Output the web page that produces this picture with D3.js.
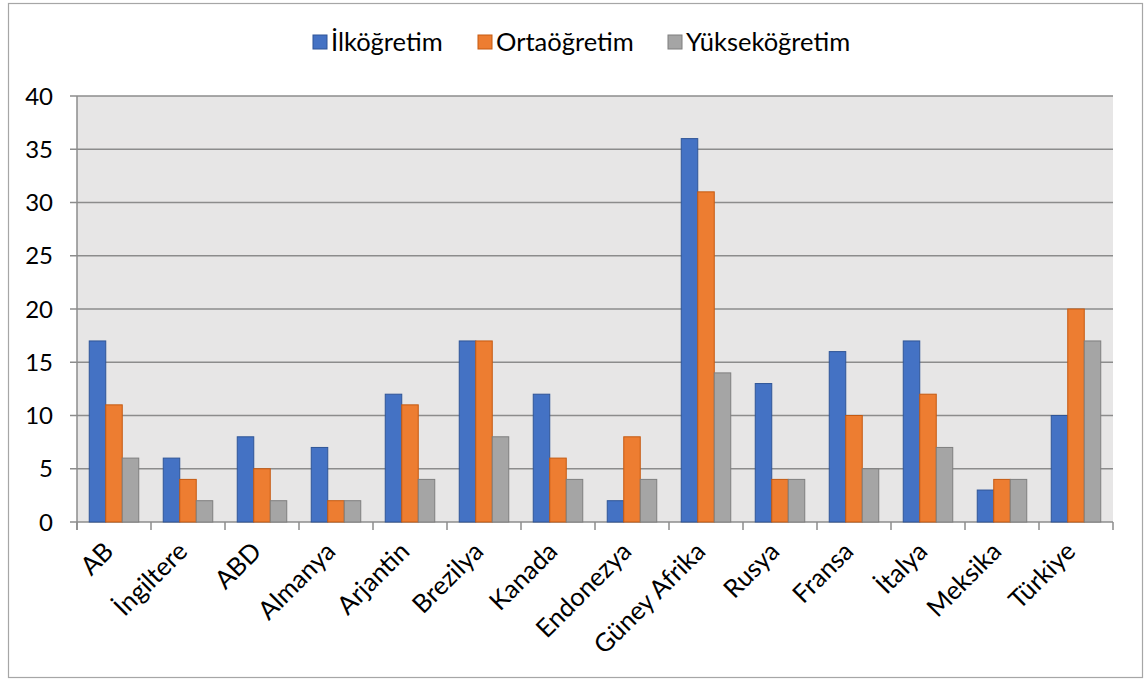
<!DOCTYPE html>
<html><head><meta charset="utf-8">
<script src="https://cdn.jsdelivr.net/npm/d3@7"></script>
<style>body{margin:0;background:#fff;} svg{display:block;font-family:Lato,"Open Sans",sans-serif;}</style>
</head><body><svg id="c" width="1148" height="679"></svg>
<script>
const categories = ["AB","İngiltere","ABD","Almanya","Arjantin","Brezilya","Kanada","Endonezya","Güney Afrika","Rusya","Fransa","İtalya","Meksika","Türkiye"];
const seriesNames = ["İlköğretim","Ortaöğretim","Yükseköğretim"];
const ilkogretim = [17,6,8,7,12,17,12,2,36,13,16,17,3,10];
const ortaogretim = [11,4,5,2,11,17,6,8,31,4,10,12,4,20];
const yuksekogretim = [6,2,2,2,4,8,4,4,14,4,5,7,4,17];
const yTicks = [0,5,10,15,20,25,30,35,40];
const colors = ["#4472C4","#ED7D31","#A5A5A5"];
const strokes = ["#2F5597","#C55A11","#7F7F7F"];

const series = [ilkogretim, ortaogretim, yuksekogretim];
const svg = d3.select("#c");
const m = {l:77, r:1113, t:96, b:522};

svg.append("rect").attr("x",8.5).attr("y",3.5).attr("width",1134).attr("height",674)
  .attr("fill","#fff").attr("stroke","#a6a6a6").attr("stroke-width",1.2);

const x = d3.scaleBand().domain(categories).range([m.l, m.r]).paddingInner(0).paddingOuter(0);
const y = d3.scaleLinear().domain([0,40]).range([m.b, m.t]);

svg.append("rect").attr("x",m.l).attr("y",m.t).attr("width",m.r-m.l).attr("height",m.b-m.t).attr("fill","#E7E6E6");

// grid
svg.append("g").selectAll("line").data(yTicks).join("line")
  .attr("x1",m.l-7).attr("x2",m.r).attr("y1",d=>y(d)).attr("y2",d=>y(d))
  .attr("stroke","#8c8c8c").attr("stroke-width",1.5);

// left axis line
svg.append("line").attr("x1",m.l).attr("x2",m.l).attr("y1",m.t).attr("y2",m.b+8).attr("stroke","#8c8c8c").attr("stroke-width",1.5);

// y labels
svg.append("g").selectAll("text").data(yTicks).join("text")
  .attr("x",53).attr("y",d=>y(d)).attr("dy","0.36em").attr("text-anchor","end")
  .attr("font-size",24).attr("fill","#000").text(d=>d);

// x ticks
const bounds = categories.map(c=>x(c)).concat([m.r]);
svg.append("g").selectAll("line").data(bounds).join("line")
  .attr("x1",d=>d).attr("x2",d=>d).attr("y1",m.b).attr("y2",m.b+8)
  .attr("stroke","#8c8c8c").attr("stroke-width",1.5);

// bars
const bw = 16.5;
const gap = (x.bandwidth() - 3*bw)/2;
series.forEach((vals,si)=>{
  svg.append("g").selectAll("rect").data(vals).join("rect")
    .attr("x",(d,i)=>x(categories[i]) + gap + si*bw)
    .attr("y",d=>y(d))
    .attr("width",bw)
    .attr("height",d=>y(0)-y(d))
    .attr("fill",colors[si]).attr("stroke",strokes[si]).attr("stroke-width",1);
});

// x labels
svg.append("g").selectAll("text").data(categories).join("text")
  .attr("transform",c=>`translate(${x(c)+x.bandwidth()/2+1},${m.b+31}) rotate(-45)`)
  .attr("text-anchor","end")
  .attr("font-size",25.5).attr("fill","#000").text(c=>c);

// legend
const legX = [313, 478, 668];
const lg = svg.append("g");
seriesNames.forEach((n,i)=>{
  lg.append("rect").attr("x",legX[i]).attr("y",35).attr("width",14).attr("height",14)
    .attr("fill",colors[i]).attr("stroke",strokes[i]).attr("stroke-width",1);
  lg.append("text").attr("x",legX[i]+18).attr("y",42).attr("dy","0.36em")
    .attr("font-size",25.5).attr("fill","#000").text(n);
});
</script></body></html>
